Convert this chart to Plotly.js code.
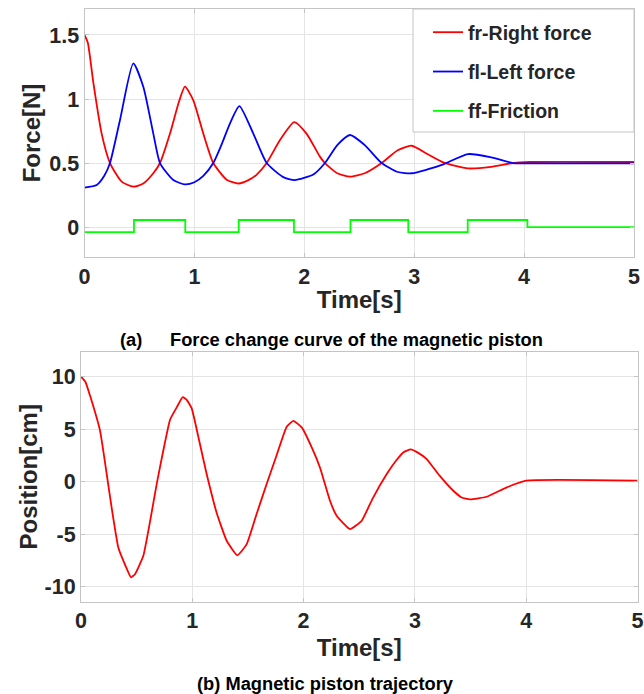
<!DOCTYPE html>
<html>
<head>
<meta charset="utf-8">
<script src="https://cdn.plot.ly/plotly-3.0.1.min.js"></script>
<style>html,body{margin:0;padding:0;background:#fff;}#chart{width:644px;height:694px;}</style>
</head>
<body>
<div id="chart"></div>
<script>
// ---- Data ----
const frTime = [0, 0.03, 0.08, 0.156, 0.232, 0.338, 0.444, 0.535, 0.626, 0.687, 0.778, 0.86, 0.914, 0.99, 1.081, 1.172, 1.294, 1.40, 1.50, 1.567, 1.658, 1.779, 1.909, 2.02, 2.142, 2.188, 2.30, 2.416, 2.55, 2.704, 2.85, 2.977, 3.12, 3.265, 3.49, 3.70, 3.90, 4.05, 5];
const frForce = [1.5, 1.44, 1.13, 0.73, 0.5, 0.355, 0.315, 0.34, 0.42, 0.5, 0.73, 0.98, 1.096, 0.99, 0.73, 0.5, 0.37, 0.34, 0.37, 0.41, 0.5, 0.68, 0.82, 0.73, 0.55, 0.5, 0.42, 0.393, 0.42, 0.5, 0.6, 0.635, 0.57, 0.505, 0.458, 0.47, 0.5, 0.508, 0.508];

const flTime = [0, 0.111, 0.18, 0.232, 0.323, 0.444, 0.535, 0.626, 0.687, 0.808, 0.914, 1.0, 1.081, 1.172, 1.25, 1.324, 1.409, 1.536, 1.658, 1.809, 1.912, 2.082, 2.188, 2.30, 2.416, 2.55, 2.704, 2.85, 2.977, 3.12, 3.265, 3.49, 3.70, 3.90, 4.05, 5];
const flForce = [0.307, 0.328, 0.4, 0.5, 0.836, 1.279, 1.096, 0.73, 0.5, 0.367, 0.333, 0.35, 0.40, 0.5, 0.65, 0.81, 0.945, 0.73, 0.5, 0.39, 0.367, 0.41, 0.5, 0.64, 0.719, 0.64, 0.5, 0.43, 0.42, 0.45, 0.49, 0.57, 0.545, 0.5, 0.497, 0.497];

const ffTime = [0, 0.45, 0.917, 1.403, 1.906, 2.42, 2.946, 3.487, 4.03, 5];
const ffForce = [-0.04, 0.055, -0.04, 0.055, -0.04, 0.055, -0.04, 0.055, 0, 0];

const posTime = [0, 0.04, 0.081, 0.171, 0.231, 0.28, 0.335, 0.40, 0.449, 0.485, 0.56, 0.62, 0.68, 0.74, 0.80, 0.86, 0.914, 0.95, 0.994, 1.06, 1.129, 1.22, 1.309, 1.405, 1.489, 1.58, 1.668, 1.76, 1.848, 1.908, 1.983, 2.073, 2.147, 2.237, 2.297, 2.417, 2.522, 2.62, 2.747, 2.83, 2.896, 2.962, 3.03, 3.106, 3.22, 3.345, 3.42, 3.495, 3.645, 3.825, 4.0, 5];
const posCm = [10, 9.5, 8.2, 4.86, 0.73, -2.8, -6.26, -8.0, -9.1, -8.8, -7.05, -3.8, -0.22, 3.0, 5.9, 7.08, 8.05, 7.8, 7.0, 4.0, 0.73, -3.0, -5.62, -7.0, -5.94, -3.0, -0.22, 2.6, 5.24, 5.8, 5.17, 3.27, 1.36, -1.81, -3.24, -4.51, -3.71, -1.6, 0.73, 2.0, 2.79, 3.08, 2.75, 2.16, 0.6, -0.86, -1.5, -1.68, -1.43, -0.54, 0.1, 0.1];

const timeTicks = [0, 1, 2, 3, 4, 5];
const forceTicks = [0, 0.5, 1, 1.5];
const posTicks = [-10, -5, 0, 5, 10];

const seriesNames = ['fr-Right force', 'fl-Left force', 'ff-Friction'];
const captionA = ['(a)', 'Force change curve of the magnetic piston'];
const captionB = '(b) Magnetic piston trajectory';

// ---- Figure ----
const W = 644, H = 694;
const px = v => v / W;
const py = v => 1 - v / H;

const FONT = 'Liberation Sans, Arial, sans-serif';
const tickFont = {family: FONT, size: 21.5, color: '#262626', weight: 'bold'};
const titleFont = {family: FONT, size: 24, color: '#262626', weight: 'bold'};

const traces = [
  {x: frTime, y: frForce, name: seriesNames[0], type: 'scatter', mode: 'lines',
   line: {color: '#ff0000', width: 1.8, shape: 'spline', smoothing: 0.6}, xaxis: 'x', yaxis: 'y', legendgroup: 'a'},
  {x: flTime, y: flForce, name: seriesNames[1], type: 'scatter', mode: 'lines',
   line: {color: '#0000ff', width: 1.8, shape: 'spline', smoothing: 0.6}, xaxis: 'x', yaxis: 'y', legendgroup: 'b'},
  {x: ffTime, y: ffForce, name: seriesNames[2], type: 'scatter', mode: 'lines',
   line: {color: '#00ff00', width: 1.8, shape: 'hv'}, xaxis: 'x', yaxis: 'y', legendgroup: 'c'},
  {x: posTime, y: posCm, name: 'Position', type: 'scatter', mode: 'lines', showlegend: false,
   line: {color: '#ff0000', width: 1.8, shape: 'spline', smoothing: 0.4}, xaxis: 'x2', yaxis: 'y2'}
];

const axisCommon = {
  showgrid: true, gridcolor: '#e4e4e4', gridwidth: 1,
  showline: true, linecolor: '#c4c4c4', linewidth: 1, mirror: 'ticks',
  ticks: 'inside', ticklen: 4, tickcolor: '#c4c4c4',
  zeroline: false, tickfont: tickFont, tickmode: 'array'
};

const layout = {
  width: W, height: H, autosize: false,
  margin: {l: 0, r: 0, t: 0, b: 0},
  paper_bgcolor: '#ffffff', plot_bgcolor: '#ffffff',
  font: {family: FONT, weight: 'bold', color: '#262626'},
  showlegend: true,
  legend: {
    x: px(428), y: py(13), xanchor: 'left', yanchor: 'top',
    bgcolor: 'rgba(0,0,0,0)', borderwidth: 0,
    font: {family: FONT, size: 19.5, color: '#262626', weight: 'bold'},
    traceorder: 'grouped', tracegroupgap: 11, itemwidth: 30
  },
  xaxis: Object.assign({}, axisCommon, {
    domain: [px(84.5), px(634)], range: [0, 5], anchor: 'y',
    tickvals: timeTicks, ticktext: timeTicks.map(String),
    title: {text: 'Time[s]', font: titleFont, standoff: 3}
  }),
  yaxis: Object.assign({}, axisCommon, {
    domain: [py(257), py(9)], range: [-0.234, 1.703], anchor: 'x',
    tickvals: forceTicks, ticktext: forceTicks.map(String),
    title: {text: 'Force[N]', font: titleFont, standoff: 1}
  }),
  xaxis2: Object.assign({}, axisCommon, {
    domain: [px(81), px(637.5)], range: [0, 5], anchor: 'y2',
    tickvals: timeTicks, ticktext: timeTicks.map(String),
    title: {text: 'Time[s]', font: titleFont, standoff: 6}
  }),
  yaxis2: Object.assign({}, axisCommon, {
    domain: [py(601.5), py(352)], range: [-11.4, 12.35], anchor: 'x2',
    tickvals: posTicks, ticktext: posTicks.map(String),
    title: {text: 'Position[cm]', font: titleFont, standoff: 0}
  }),
  shapes: [
    {type: 'rect', xref: 'paper', yref: 'paper', x0: px(413), x1: px(634), y0: py(132), y1: py(9),
     fillcolor: '#ffffff', line: {color: '#c4c4c4', width: 1}, layer: 'above'}
  ],
  annotations: [
    {text: captionA[0], xref: 'paper', yref: 'paper', x: px(118), y: py(339), xanchor: 'left', yanchor: 'middle',
     showarrow: false, font: {family: FONT, size: 18.3, color: '#000000', weight: 'bold'}},
    {text: captionA[1], xref: 'paper', yref: 'paper', x: px(168), y: py(339), xanchor: 'left', yanchor: 'middle',
     showarrow: false, font: {family: FONT, size: 18.3, color: '#000000', weight: 'bold'}},
    {text: captionB, xref: 'paper', yref: 'paper', x: px(325), y: py(683), xanchor: 'center', yanchor: 'middle',
     showarrow: false, font: {family: FONT, size: 18.3, color: '#000000', weight: 'bold'}}
  ]
};

Plotly.newPlot('chart', traces, layout, {displayModeBar: false, staticPlot: true});
</script>
</body>
</html>
